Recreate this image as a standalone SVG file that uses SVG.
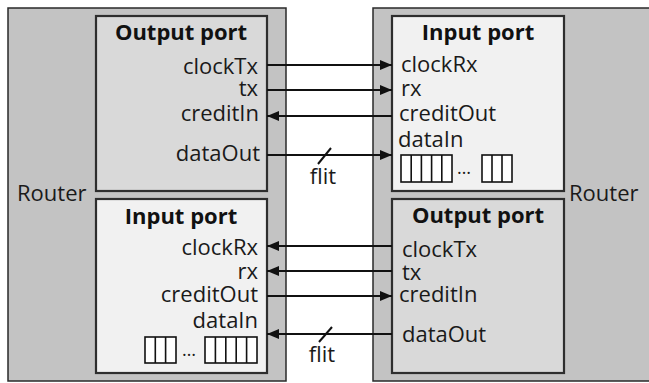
<svg xmlns="http://www.w3.org/2000/svg" width="649" height="383" viewBox="0 0 649 383">
  <style>
    .router { fill: #c3c3c3; stroke: #2a2a2a; stroke-width: 1.5; }
    .outbox { fill: #d9d9d9; stroke: #2e2e2e; stroke-width: 2.2; }
    .inbox { fill: #f1f1f1; stroke: #2e2e2e; stroke-width: 2.2; }
    .lbl { font-family: "Open Sans", "Liberation Sans", sans-serif; font-size: 22px; fill: #1a1a1a; }
    .title { font-family: "Open Sans", "Liberation Sans", sans-serif; font-size: 22px; font-weight: bold; fill: #111; text-anchor: middle; }
    .end { text-anchor: end; }
    .wire { stroke: #111; stroke-width: 2; fill: none; }
    .buf { fill: #fff; stroke: #111; stroke-width: 1.6; }
    .cell { stroke: #111; stroke-width: 1.6; }
  </style>
  <defs>
    <marker id="head" viewBox="0 0 12 10" refX="12" refY="5" markerWidth="12" markerHeight="10" markerUnits="userSpaceOnUse" orient="auto">
      <path d="M0,0 L12,5 L0,10 Z" fill="#111"/>
    </marker>
  </defs>

  <rect width="649" height="383" fill="#fff"/>

  <!-- Left router -->
  <g id="router-left">
    <rect class="router" x="8" y="8" width="278" height="373"/>
    <text class="lbl" x="17" y="201">Router</text>
  </g>

  <!-- Right router (runs off the right edge) -->
  <g id="router-right">
    <path class="router" d="M660,8 H373 V381 H660"/>
    <text class="lbl" x="569" y="201">Router</text>
  </g>

  <!-- Left router: output port -->
  <g id="left-output-port">
    <rect class="outbox" x="96" y="16" width="171" height="175"/>
    <text class="title" x="181" y="40">Output port</text>
    <text class="lbl end" x="258" y="74">clockTx</text>
    <text class="lbl end" x="258" y="96">tx</text>
    <text class="lbl end" x="259" y="121">creditIn</text>
    <text class="lbl end" x="260" y="161">dataOut</text>
  </g>

  <!-- Left router: input port -->
  <g id="left-input-port">
    <rect class="inbox" x="96" y="199" width="171" height="174"/>
    <text class="title" x="181" y="224">Input port</text>
    <text class="lbl end" x="258" y="255">clockRx</text>
    <text class="lbl end" x="258" y="279">rx</text>
    <text class="lbl end" x="258" y="302">creditOut</text>
    <text class="lbl end" x="258" y="328">dataIn</text>
    <rect class="buf" x="145" y="337" width="31" height="26"/>
    <path class="cell" d="M155.3,337 V363 M165.6,337 V363"/>
    <text class="lbl" x="182" y="356" style="font-size:18px">…</text>
    <rect class="buf" x="205" y="337" width="52" height="26"/>
    <path class="cell" d="M215.4,337 V363 M225.8,337 V363 M236.2,337 V363 M246.6,337 V363"/>
  </g>

  <!-- Right router: input port -->
  <g id="right-input-port">
    <rect class="inbox" x="392" y="16" width="172" height="175"/>
    <text class="title" x="478" y="40">Input port</text>
    <text class="lbl" x="401" y="72">clockRx</text>
    <text class="lbl" x="401" y="96">rx</text>
    <text class="lbl" x="399" y="121">creditOut</text>
    <text class="lbl" x="398" y="147">dataIn</text>
    <rect class="buf" x="401" y="155" width="51" height="27"/>
    <path class="cell" d="M411.2,155 V182 M421.4,155 V182 M431.6,155 V182 M441.8,155 V182"/>
    <text class="lbl" x="457" y="174" style="font-size:18px">…</text>
    <rect class="buf" x="482" y="155" width="30" height="27"/>
    <path class="cell" d="M492,155 V182 M502,155 V182"/>
  </g>

  <!-- Right router: output port -->
  <g id="right-output-port">
    <rect class="outbox" x="392" y="199" width="172" height="174"/>
    <text class="title" x="478" y="223">Output port</text>
    <text class="lbl" x="402" y="257">clockTx</text>
    <text class="lbl" x="402" y="280">tx</text>
    <text class="lbl" x="399" y="302">creditIn</text>
    <text class="lbl" x="402" y="342">dataOut</text>
  </g>

  <!-- Links between the two routers -->
  <g id="connectors">
    <line class="wire" x1="267" y1="65" x2="392" y2="65" marker-end="url(#head)"/>
    <line class="wire" x1="267" y1="90" x2="392" y2="90" marker-end="url(#head)"/>
    <line class="wire" x1="392" y1="116" x2="267" y2="116" marker-end="url(#head)"/>
    <line class="wire" x1="267" y1="155" x2="392" y2="155" marker-end="url(#head)"/>
    <line class="wire" x1="331" y1="148" x2="318" y2="164" stroke-width="1.5"/>
    <text class="lbl" x="323" y="184" text-anchor="middle">flit</text>

    <line class="wire" x1="392" y1="246" x2="267" y2="246" marker-end="url(#head)"/>
    <line class="wire" x1="392" y1="271" x2="267" y2="271" marker-end="url(#head)"/>
    <line class="wire" x1="267" y1="296" x2="392" y2="296" marker-end="url(#head)"/>
    <line class="wire" x1="392" y1="334" x2="267" y2="334" marker-end="url(#head)"/>
    <line class="wire" x1="332" y1="327" x2="319" y2="342" stroke-width="1.5"/>
    <text class="lbl" x="322" y="362" text-anchor="middle">flit</text>
  </g>
</svg>
